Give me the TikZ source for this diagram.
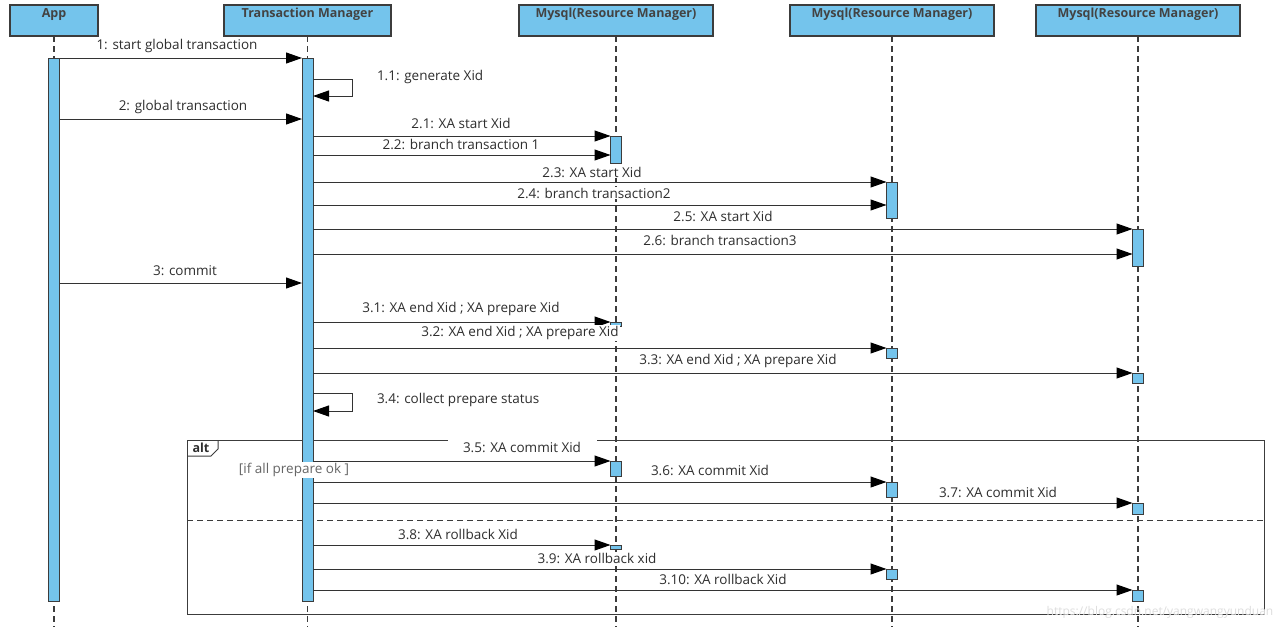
\documentclass[tikz,border=0pt]{standalone}
\usepackage{fontspec}
\setmainfont{Open Sans}
\usetikzlibrary{arrows.meta}
\definecolor{lblue}{HTML}{74C4EC}
\definecolor{edgec}{HTML}{3C3C3C}
\definecolor{txtc}{HTML}{2E2E2E}
\begin{document}
\begin{tikzpicture}[x=1pt,y=-1pt,
  every node/.style={inner sep=0pt, outer sep=0pt},
  head/.style={draw=edgec, fill=lblue, line width=1.1pt, anchor=north west,
    minimum height=31pt, text=txtc!90, font=\fontsize{12.5}{13}\selectfont\bfseries,
    inner ysep=3pt, text height=9pt, text depth=16pt},
  life/.style={draw=edgec, line width=1.2pt, dash pattern=on 6pt off 4pt},
  act/.style={draw=edgec, fill=lblue, line width=0.9pt, minimum width=11pt, anchor=north},
  msg/.style={draw=black!80, line width=1pt, -{Triangle[length=16pt,width=11pt,fill=black,color=black]}},
  lbl/.style={font=\fontsize{13.5}{15}\selectfont, text=txtc, fill=white, inner sep=1pt},
  framec/.style={draw=edgec, line width=1pt},
]
\useasboundingbox (0,0) rectangle (1280,627);
\fill[white] (0,0) rectangle (1280,627);

% vertical levels
\coordinate (y1) at (0,58);
\coordinate (y11a) at (0,79);
\coordinate (y11b) at (0,96);
\coordinate (y2) at (0,119);
\coordinate (y21) at (0,136);
\coordinate (y22) at (0,155);
\coordinate (y23) at (0,182);
\coordinate (y24) at (0,205);
\coordinate (y25) at (0,229);
\coordinate (y26) at (0,254);
\coordinate (y3) at (0,283);
\coordinate (y31) at (0,322);
\coordinate (y32) at (0,348);
\coordinate (y33) at (0,373);
\coordinate (y34a) at (0,393);
\coordinate (y34b) at (0,411);
\coordinate (y35) at (0,461);
\coordinate (y36) at (0,482);
\coordinate (y37) at (0,503);
\coordinate (ysep) at (0,520);
\coordinate (y38) at (0,545);
\coordinate (y39) at (0,569);
\coordinate (y310) at (0,590);
\coordinate (ybot) at (0,627);

% heads
\node[head, minimum width=88pt] (app) at (10,5) {App};
\node[head, minimum width=167pt] (tm) at (224,5) {Transaction Manager};
\node[head, minimum width=194pt] (rm1) at (519,5) {Mysql(Resource Manager)};
\node[head, minimum width=204pt] (rm2) at (790,5) {Mysql(Resource Manager)};
\node[head, minimum width=204pt] (rm3) at (1036,5) {Mysql(Resource Manager)};

% lifelines
\draw[life] (app.south) -- (app.south |- ybot);
\draw[life] (tm.south) -- (tm.south |- ybot);
\draw[life] (rm1.south) -- (rm1.south |- ybot);
\draw[life] (rm2.south) -- (rm2.south |- ybot);
\draw[life] (rm3.south) -- (rm3.south |- ybot);

% alt frame
\node[framec, minimum width=1077pt, minimum height=174pt, anchor=north west] (altf) at (187,440) {};
\draw[framec] (altf.north west) ++(31,0) -- ++(0,9) -- ++(-7,7) -- ++(-24,0);
\node[font=\fontsize{12.5}{13}\selectfont\bfseries, text=txtc] (alttxt) at (201,448) {alt};
\draw[framec, dash pattern=on 6pt off 4pt] (altf.west |- ysep) -- (altf.east |- ysep);

% activations
\node[act, minimum height=543pt] (appbar) at (app.south |- y1) {};
\node[act, minimum height=543pt] (tmbar) at (tm.south |- y1) {};
\node[act, minimum height=27pt] (ra1) at (rm1.south |- y21) {};
\node[act, minimum height=4pt] (ra2) at (rm1.south |- y31) {};
\node[act, minimum height=15pt] (ra3) at (rm1.south |- y35) {};
\node[act, minimum height=4pt] (ra4) at (rm1.south |- y38) {};
\node[act, minimum height=36pt] (rb1) at (rm2.south |- y23) {};
\node[act, minimum height=10pt] (rb2) at (rm2.south |- y32) {};
\node[act, minimum height=15pt] (rb3) at (rm2.south |- y36) {};
\node[act, minimum height=10pt] (rb4) at (rm2.south |- y39) {};
\node[act, minimum height=37pt] (rc1) at (rm3.south |- y25) {};
\node[act, minimum height=10pt] (rc2) at (rm3.south |- y33) {};
\node[act, minimum height=11pt] (rc3) at (rm3.south |- y37) {};
\node[act, minimum height=11pt] (rc4) at (rm3.south |- y310) {};

% messages
\draw[msg] (appbar.east |- y1) -- (tmbar.west |- y1);
\draw[msg] (tmbar.east |- y11a) -- ++(39,0) |- (tmbar.east |- y11b);
\draw[msg] (appbar.east |- y2) -- (tmbar.west |- y2);
\draw[msg] (tmbar.east |- y21) -- (ra1.west |- y21);
\draw[msg] (tmbar.east |- y22) -- (ra1.west |- y22);
\draw[msg] (tmbar.east |- y23) -- (rb1.west |- y23);
\draw[msg] (tmbar.east |- y24) -- (rb1.west |- y24);
\draw[msg] (tmbar.east |- y25) -- (rc1.west |- y25);
\draw[msg] (tmbar.east |- y26) -- (rc1.west |- y26);
\draw[msg] (appbar.east |- y3) -- (tmbar.west |- y3);
\draw[msg] (tmbar.east |- y31) -- (ra2.west |- y31);
\draw[msg] (tmbar.east |- y32) -- (rb2.west |- y32);
\draw[msg] (tmbar.east |- y33) -- (rc2.west |- y33);
\draw[msg] (tmbar.east |- y34a) -- ++(39,0) |- (tmbar.east |- y34b);
\draw[msg] (tmbar.east |- y35) -- (ra3.west |- y35);
\draw[msg] (tmbar.east |- y36) -- (rb3.west |- y36);
\draw[msg] (tmbar.east |- y37) -- (rc3.west |- y37);
\draw[msg] (tmbar.east |- y38) -- (ra4.west |- y38);
\draw[msg] (tmbar.east |- y39) -- (rb4.west |- y39);
\draw[msg] (tmbar.east |- y310) -- (rc4.west |- y310);

% labels
\node[lbl] (l1) at (177,46) {1: start global transaction};
\node[lbl, anchor=west] (l11) at (376,77) {1.1: generate Xid};
\node[lbl] (l2) at (183,107) {2: global transaction};
\node[lbl] (l21) at (461,123) {2.1: XA start Xid};
\node[lbl] (l22) at (461,144) {2.2: branch transaction 1};
\node[lbl] (l23) at (592,172) {2.3: XA start Xid};
\node[lbl] (l24) at (594,193) {2.4: branch transaction2};
\node[lbl] (l25) at (723,216) {2.5: XA start Xid};
\node[lbl] (l26) at (720,240) {2.6: branch transaction3};
\node[lbl] (l3) at (185,271) {3: commit};
\node[lbl] (l31) at (461,309) {3.1: XA end Xid ; XA prepare Xid};
\node[lbl] (l32) at (520,333) {3.2: XA end Xid ; XA prepare Xid};
\node[lbl] (l33) at (738,361) {3.3: XA end Xid ; XA prepare Xid};
\node[lbl, anchor=west] (l34) at (376,400) {3.4: collect prepare status};
\node[lbl, minimum width=149pt, minimum height=16pt] (l35) at (522,447) {3.5: XA commit Xid};
\node[lbl, text=black!60] (guard) at (294,470) {[if all prepare ok ]};
\node[lbl] (l36) at (710,470) {3.6: XA commit Xid};
\node[lbl] (l37) at (998,492) {3.7: XA commit Xid};
\node[lbl] (l38) at (458,534) {3.8: XA rollback Xid};
\node[lbl] (l39) at (597,558) {3.9: XA rollback xid};
\node[lbl] (l310) at (723,579) {3.10: XA rollback Xid};

% watermark
\node[font=\fontsize{12}{13}\selectfont, text=black!13] (wm) at (1160,612) {https://blog.csdn.net/yangwangyunduan};
\end{tikzpicture}
\end{document}
